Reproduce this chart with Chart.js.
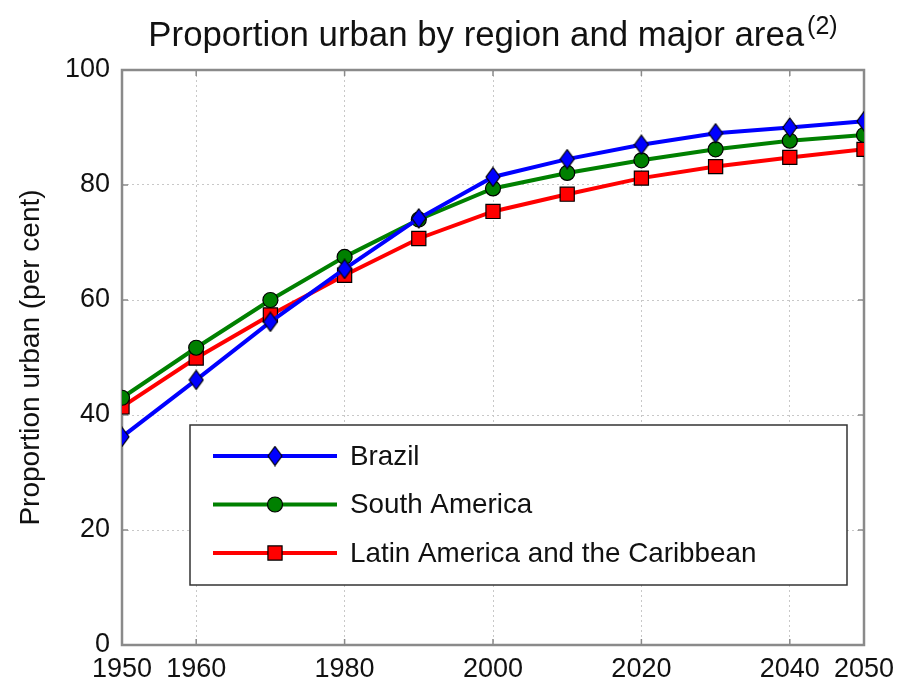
<!DOCTYPE html>
<html lang="en">
<head>
  <meta charset="UTF-8" />
  <title>Proportion urban by region and major area</title>
  <script src="https://cdn.jsdelivr.net/npm/chart.js"></script>
  <style>
    html, body { margin: 0; padding: 0; background: #fff; }
    canvas { display: block; }
  </style>
</head>
<body>
  <canvas id="urbanChart" width="914" height="688"></canvas>

  <script>
    // values
    const years = [1950, 1960, 1970, 1980, 1990, 2000, 2010, 2020, 2030, 2040, 2050];
    const brazil = [36.2, 46.1, 56.2, 65.4, 74.2, 81.4, 84.5, 87.0, 89.0, 90.0, 91.1];
    const southAmerica = [43.0, 51.7, 60.0, 67.5, 74.0, 79.4, 82.1, 84.3, 86.2, 87.7, 88.7];
    const latinAmerica = [41.4, 49.9, 57.4, 64.3, 70.7, 75.4, 78.4, 81.2, 83.2, 84.8, 86.2];
    const seriesNames = ['Brazil', 'South America', 'Latin America and the Caribbean'];
    const xTicks = [1950, 1960, 1980, 2000, 2020, 2040, 2050];
    const yTicks = [0, 20, 40, 60, 80, 100];

    const FONT = '"Liberation Sans", Arial, sans-serif';
    const TEXT = '#111';

    function toPoints(vals) {
      return years.map((yr, i) => ({ x: yr, y: vals[i] }));
    }

    // matlab diamonds are a bit taller than wide, so draw one into a small canvas
    function diamondImage(color, w, h) {
      const c = document.createElement('canvas');
      c.width = w + 2;
      c.height = h + 2;
      const g = c.getContext('2d');
      g.beginPath();
      g.moveTo(c.width / 2, 1);
      g.lineTo(c.width - 1, c.height / 2);
      g.lineTo(c.width / 2, c.height - 1);
      g.lineTo(1, c.height / 2);
      g.closePath();
      g.fillStyle = color;
      g.fill();
      g.lineWidth = 1.2;
      g.strokeStyle = '#000';
      g.stroke();
      return c;
    }

    // matlab-style title with the superscript note
    const titlePlugin = {
      id: 'matTitle',
      afterDraw(chart) {
        const { ctx, chartArea } = chart;
        const main = 'Proportion urban by region and major area';
        const sup = '(2)';
        ctx.save();
        ctx.fillStyle = TEXT;
        ctx.textBaseline = 'alphabetic';
        ctx.textAlign = 'left';
        ctx.font = '34.8px ' + FONT;
        const w1 = ctx.measureText(main).width;
        ctx.font = '25px ' + FONT;
        const w2 = ctx.measureText(sup).width;
        const cx = (chartArea.left + chartArea.right) / 2;
        const x0 = cx - (w1 + 3 + w2) / 2;
        ctx.font = '34.8px ' + FONT;
        ctx.fillText(main, x0, 46);
        ctx.font = '25px ' + FONT;
        ctx.fillText(sup, x0 + w1 + 3, 34);
        ctx.restore();
      }
    };

    // box round the axes plus inward tick marks
    const boxPlugin = {
      id: 'axesBox',
      beforeDatasetsDraw(chart) {
        const { ctx, chartArea: a, scales } = chart;
        ctx.save();
        ctx.strokeStyle = '#8a8a8a';
        ctx.lineWidth = 1.5;
        ctx.beginPath();
        xTicks.forEach(v => {
          const px = scales.x.getPixelForValue(v);
          ctx.moveTo(px, a.bottom); ctx.lineTo(px, a.bottom - 6);
          ctx.moveTo(px, a.top); ctx.lineTo(px, a.top + 6);
        });
        yTicks.forEach(v => {
          const py = scales.y.getPixelForValue(v);
          ctx.moveTo(a.left, py); ctx.lineTo(a.left + 6, py);
          ctx.moveTo(a.right, py); ctx.lineTo(a.right - 6, py);
        });
        ctx.stroke();
        ctx.lineWidth = 2.5;
        ctx.strokeRect(a.left, a.top, a.right - a.left, a.bottom - a.top);
        ctx.restore();
      }
    };

    function marker(ctx, ds, x, y) {
      ctx.fillStyle = ds.pointBackgroundColor;
      ctx.strokeStyle = ds.pointBorderColor;
      ctx.lineWidth = ds.pointBorderWidth;
      Chart.helpers.drawPoint(ctx, {
        pointStyle: ds.pointStyle,
        rotation: 0,
        radius: ds.pointRadius,
        borderWidth: ds.pointBorderWidth
      }, x, y);
    }

    // legend box inside the plot, lower right
    const legendPlugin = {
      id: 'insideLegend',
      afterDatasetsDraw(chart) {
        const { ctx, chartArea: a } = chart;
        const bx = a.left + 68, by = a.top + 355, bw = 657, bh = 160;
        ctx.save();
        ctx.fillStyle = '#fff';
        ctx.fillRect(bx, by, bw, bh);
        ctx.strokeStyle = '#333';
        ctx.lineWidth = 1.5;
        ctx.strokeRect(bx, by, bw, bh);
        chart.data.datasets.forEach((ds, i) => {
          const ly = by + 31 + i * 48.5;
          ctx.strokeStyle = ds.borderColor;
          ctx.lineWidth = ds.borderWidth;
          ctx.beginPath();
          ctx.moveTo(bx + 23, ly);
          ctx.lineTo(bx + 147, ly);
          ctx.stroke();
          marker(ctx, ds, bx + 85, ly);
          ctx.fillStyle = TEXT;
          ctx.font = '27.8px ' + FONT;
          ctx.textBaseline = 'middle';
          ctx.textAlign = 'left';
          ctx.fillText(ds.label, bx + 160, ly + 1);
        });
        ctx.restore();
      }
    };

    function series(label, vals, color, style, radius) {
      return {
        label,
        data: toPoints(vals),
        borderColor: color,
        backgroundColor: color,
        borderWidth: 4,
        pointStyle: style,
        pointRadius: radius,
        pointHoverRadius: radius,
        pointBackgroundColor: color,
        pointBorderColor: '#000',
        pointBorderWidth: 1.2,
        tension: 0,
        fill: false
      };
    }

    const urbanChart = new Chart(document.getElementById('urbanChart'), {
      type: 'line',
      data: {
        datasets: [
          series(seriesNames[0], brazil, '#0000ff', diamondImage('#0000ff', 14, 19), 8),
          series(seriesNames[1], southAmerica, '#008000', 'circle', 7.5),
          series(seriesNames[2], latinAmerica, '#ff0000', 'rect', 10)
        ]
      },
      options: {
        responsive: false,
        animation: false,
        layout: { padding: { top: 70, right: 50, left: 0, bottom: 0 } },
        plugins: {
          legend: { display: false },
          title: { display: false },
          tooltip: { enabled: false }
        },
        scales: {
          x: {
            type: 'linear',
            min: 1950,
            max: 2050,
            afterBuildTicks: s => { s.ticks = xTicks.map(v => ({ value: v })); },
            afterFit: s => { s.height = 43; },
            ticks: {
              autoSkip: false,
              maxRotation: 0,
              padding: 8,
              color: TEXT,
              font: { family: FONT, size: 27 },
              callback: v => String(v)
            },
            grid: { color: '#c8c8c8', lineWidth: 1, drawTicks: false },
            border: { display: false, dash: [2, 3] }
          },
          y: {
            min: 0,
            max: 100,
            afterBuildTicks: s => { s.ticks = yTicks.map(v => ({ value: v })); },
            afterFit: s => { s.width = 122; },
            ticks: {
              padding: 12,
              color: TEXT,
              font: { family: FONT, size: 27 },
              callback: v => String(v)
            },
            grid: { color: '#c8c8c8', lineWidth: 1, drawTicks: false },
            border: { display: false, dash: [2, 3] },
            title: {
              display: true,
              text: 'Proportion urban (per cent)',
              color: TEXT,
              font: { family: FONT, size: 28 },
              padding: { top: 14, bottom: 0 }
            }
          }
        }
      },
      plugins: [boxPlugin, legendPlugin, titlePlugin]
    });
  </script>
</body>
</html>
